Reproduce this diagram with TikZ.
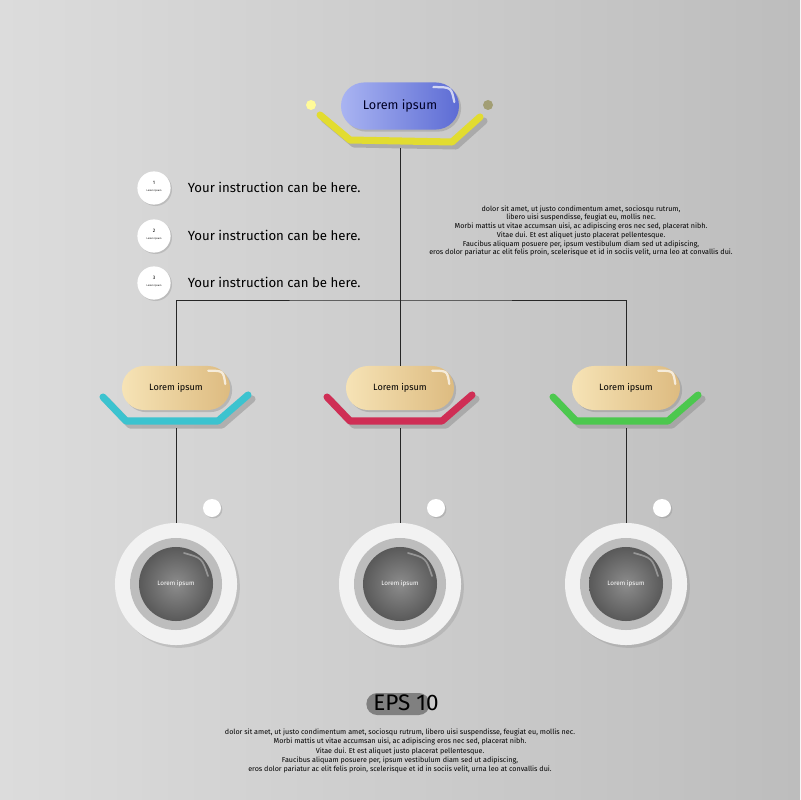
\documentclass[tikz,border=0pt]{standalone}
\usepackage{fontspec}
\setmainfont{Fira Sans}
\usetikzlibrary{shadows,calc}
\definecolor{bgleft}{HTML}{DCDCDC}
\definecolor{bgright}{HTML}{BDBDBD}
\definecolor{bluel}{HTML}{A9B4F2}
\definecolor{blued}{HTML}{5D6CD4}
\definecolor{beigel}{HTML}{F6E3B6}
\definecolor{beiged}{HTML}{DDBB80}
\definecolor{yellowtray}{HTML}{E2DC30}
\definecolor{cyantray}{HTML}{3CC3CF}
\definecolor{redtray}{HTML}{CF2E55}
\definecolor{greentray}{HTML}{4CC84E}
\definecolor{ringgray}{HTML}{BDBDBD}
\begin{document}
\begin{tikzpicture}[x=0.025cm,y=-0.025cm,
  pill/.style={rounded corners=0.55cm, minimum width=2.7cm, minimum height=1.1cm,
    inner sep=0pt, font=\fontsize{6.5}{7}\selectfont,
    drop shadow={shadow xshift=1.5pt, shadow yshift=-1.5pt, opacity=.35}},
  tray/.style={line width=5pt, line cap=round, line join=round},
  trayshadow/.style={tray, draw=black!45, opacity=.5},
  link/.style={draw=black!85, line width=0.6pt},
  dot/.style={circle, fill=white, minimum size=0.45cm, inner sep=0pt,
    drop shadow={shadow xshift=1pt, shadow yshift=-1pt, opacity=.3}},
  gloss/.style={white, opacity=.7, line width=1.6pt, line cap=round},
  para/.style={align=center, font=\fontsize{5.1}{6.2}\selectfont}]
\useasboundingbox (0,0) rectangle (800,800);
\shade[left color=bgleft, right color=bgright] (0,0) rectangle (800,800);

% top box
\draw[trayshadow] (324,119) -- (354,144) -- (456,146) -- (484,121);
\draw[tray, yellowtray] (320,115) -- (350,140) -- (452,142) -- (480,117);
\fill[yellow!40] (311,105) circle (5);
\fill[black!60!yellow!70] (488,105) circle (5);
\node[pill, minimum width=2.95cm, minimum height=1.18cm, rounded corners=0.59cm,
  left color=bluel, right color=blued, font=\fontsize{9}{10}\selectfont, text=blue!15!black]
  (top) at (400,106) {Lorem ipsum};
\draw[gloss] ($(top.north east)+(-26,5)$) .. controls ($(top.north east)+(-8,5)$) .. ($(top.east)+(-5,-4)$);
\coordinate (tt) at (400,148);
\coordinate (hub) at (400,300);

% instructions
\foreach \n/\y in {1/188,2/236,3/283}{
  \node[dot, minimum size=0.83cm] (i\n) at (154,\y) {};
  \node[font=\fontsize{3.5}{4}\selectfont] at ($(i\n)+(0,-5)$) {\n};
  \node[font=\fontsize{1.8}{2}\selectfont] at ($(i\n)+(0,3)$) {Lorem ipsum};
  \node[anchor=west, font=\fontsize{9.4}{10}\selectfont] (t\n) at (183,\y-1) {Your instruction can be here.};
}

\node[para] (note) at (581,231) {dolor sit amet, ut justo condimentum amet, sociosqu rutrum,\\
libero uisi suspendisse, feugiat eu, mollis nec.\\
Morbi mattis ut vitae accumsan uisi, ac adipiscing eros nec sed, placerat nibh.\\
Vitae dui. Et est aliquet justo placerat pellentesque.\\
Faucibus aliquam posuere per, ipsum vestibulum diam sed ut adipiscing,\\
eros dolor pariatur ac elit felis proin, scelerisque et id in sociis velit, urna leo at convallis dui.};

% children
\foreach \k/\cx/\col in {1/176/cyantray,2/400/redtray,3/626/greentray}{
  \draw[trayshadow] (\cx-69,401) -- (\cx-46,425) -- (\cx+46,425) -- (\cx+76,399);
  \draw[tray, \col] (\cx-73,397) -- (\cx-50,421) -- (\cx+42,421) -- (\cx+72,395);
  \node[pill, left color=beigel, right color=beiged] (p\k) at (\cx,388) {Lorem ipsum};
  \draw[gloss] ($(p\k.north east)+(-22,5)$) .. controls ($(p\k.north east)+(-7,5)$) .. ($(p\k.east)+(-5,-4)$);
  \coordinate (b\k) at (\cx,428);
  \node[dot] (d\k) at (\cx+36,508) {};
  \node[circle, fill=black!5, minimum size=3.05cm, inner sep=0pt,
    drop shadow={shadow xshift=2pt, shadow yshift=-2pt, opacity=.25}] (c\k) at (\cx,584) {};
  \node[circle, fill=ringgray, minimum size=2.3cm, inner sep=0pt] (r\k) at (c\k) {};
  \node[circle, inner color=black!45, outer color=black!65, minimum size=1.85cm,
    inner sep=0pt, text=white, font=\fontsize{4.5}{5}\selectfont] (s\k) at (c\k) {Lorem ipsum};
  \draw[white, opacity=.35, line width=1.2pt, line cap=round] ($(s\k)+(8,-31)$) .. controls ($(s\k)+(26,-26)$) .. ($(s\k)+(32,-8)$);
  \draw[link] (b\k) -- (c\k.north);
}

% connectors
\draw[link] (tt) -- (p2);
\draw[link] (p1) |- (hub) -| (p3);

% footer
\node[rounded corners=0.27cm, fill=black!50, minimum width=1.58cm, minimum height=0.55cm] (epsbox) at (398,704) {};
\node[font=\fontsize{16}{16}\selectfont, text=black] (eps) at (406,703) {EPS 10};
\node[para, font=\fontsize{5.1}{6.5}\selectfont] (foot) at (400,751) {dolor sit amet, ut justo condimentum amet, sociosqu rutrum, libero uisi suspendisse, feugiat eu, mollis nec.\\
Morbi mattis ut vitae accumsan uisi, ac adipiscing eros nec sed, placerat nibh.\\
Vitae dui. Et est aliquet justo placerat pellentesque.\\
Faucibus aliquam posuere per, ipsum vestibulum diam sed ut adipiscing,\\
eros dolor pariatur ac elit felis proin, scelerisque et id in sociis velit, urna leo at convallis dui.};
\end{tikzpicture}
\end{document}
